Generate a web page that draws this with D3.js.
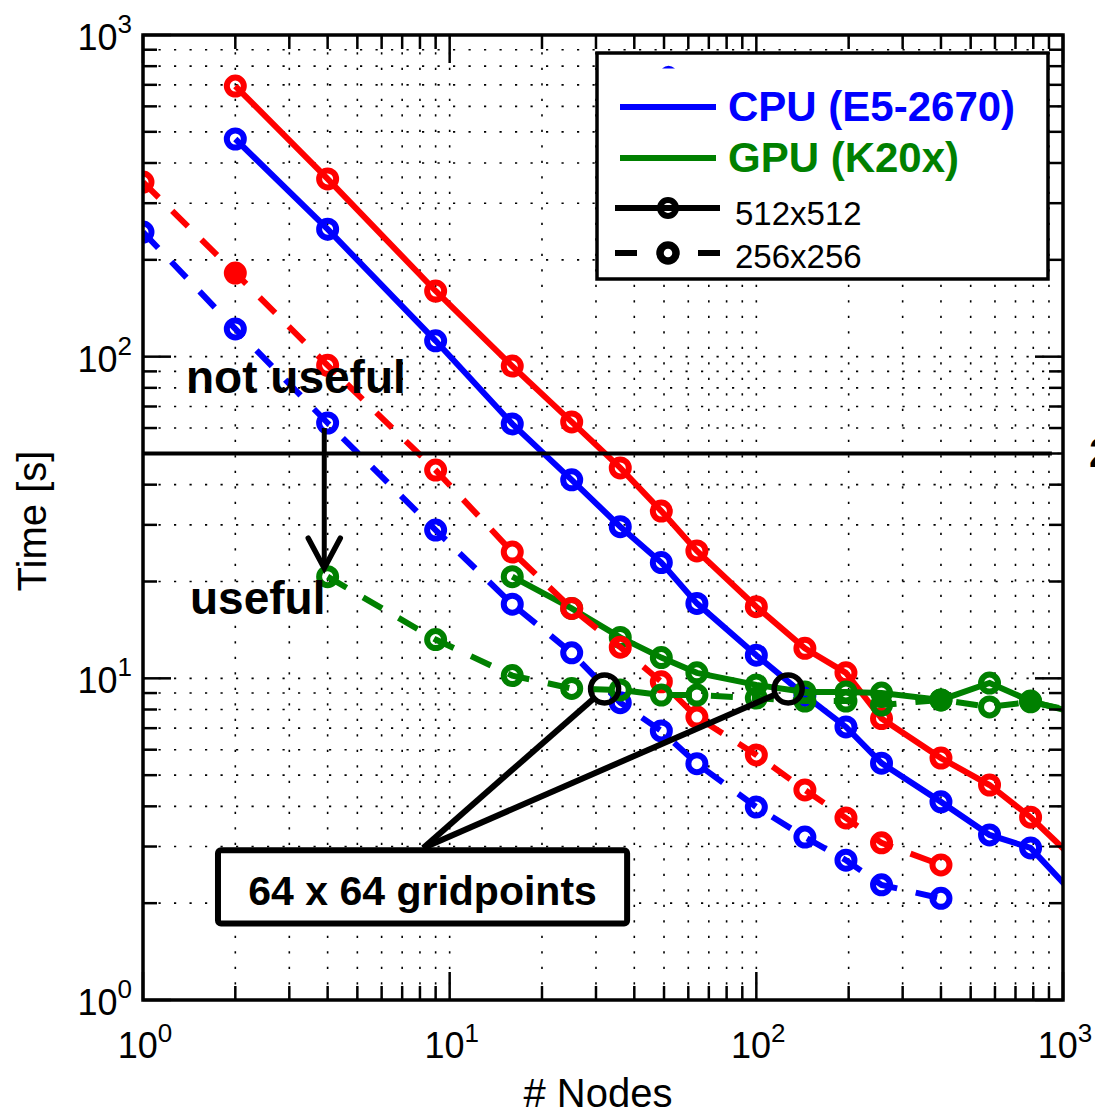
<!DOCTYPE html>
<html>
<head>
<meta charset="utf-8">
<script src="https://cdn.jsdelivr.net/npm/d3@7"></script>
<style>
body{margin:0;background:#fff;}
svg{display:block;font-family:"Liberation Sans",Arial,Helvetica,sans-serif;}
</style>
</head>
<body>
<svg id="chart"></svg>
<script>
// node counts for each run size
var nodes512 = [2,4,9,16,25,36,49,64,100,144,196,256,400,576,784,1024];
var nodes256 = [1,2,4,9,16,25,36,49,64,100,144,196,256,400];
var nodesGpu512 = [16,25,36,49,64,100,144,196,256,400,576,784,1024];
var nodesGpu256 = [4,9,16,25,36,49,64,100,144,196,256,400,576,784,1024];

// times in seconds
var red512  = [694,357,160,93.5,62.7,45.1,33.1,24.9,16.7,12.4,10.4,7.5,5.65,4.66,3.7,2.9];
var cpu512  = [475,249,112,61.8,41.4,29.6,22.9,17.1,11.8,8.85,7.06,5.45,4.13,3.26,2.97,2.26];
var red256  = [349,182,94,44.4,24.7,16.5,12.5,9.75,7.58,5.78,4.5,3.68,3.08,2.63];
var cpu256  = [244,122,62.2,28.9,17.0,12.0,8.4,6.86,5.43,3.98,3.21,2.72,2.28,2.07];
var gpu512  = [20.7,16.5,13.4,11.6,10.4,9.54,9.07,9.07,9.0,8.57,9.67,8.5,7.95];
var gpu256  = [20.7,13.2,10.2,9.3,9.2,8.87,8.87,8.68,8.5,8.5,8.26,8.57,8.15,8.45,8.0];

// axis ticks
var decades = [1,10,100,1000];
var tickExps = ["0","1","2","3"];

// annotations
var thresholdTime = 50;
var thresholdNodes = [1,920];
var arrowNodes = 3.9;
var arrowTimes = [60,22];
var gridpointMarks = [[32,9.27],[127,9.27]];
var gridpointAnchor = [8.2,2.97];
var gridpointBox = {x0:1.756,x1:37.9,y0:2.92,y1:1.73};

var screen = {width:1095,height:1114};
var plot = {left:143,right:1063,top:35,bottom:1000};

var svg = d3.select("#chart")
    .attr("width",screen.width)
    .attr("height",screen.height);

var xScale = d3.scaleLog().domain([1,1000]).range([plot.left,plot.right]);
var yScale = d3.scaleLog().domain([1,1000]).range([plot.bottom,plot.top]);

// all tick values, 1..9 per decade
var tickValues = [];
decades.slice(0,3).forEach(function(d){
    for(var k=1;k<10;k++){ tickValues.push(d*k); }
});
tickValues.push(1000);

var drawGrid = function()
{
    var grid = svg.append("g").attr("class","grid")
        .attr("stroke","#000")
        .attr("stroke-width",1.6)
        .attr("stroke-dasharray","2.2,13.3");
    tickValues.filter(function(v){return v>1 && v<1000;}).forEach(function(v){
        grid.append("line")
            .attr("x1",xScale(v)).attr("x2",xScale(v))
            .attr("y1",plot.bottom).attr("y2",plot.top);
        grid.append("line")
            .attr("y1",yScale(v)).attr("y2",yScale(v))
            .attr("x1",plot.left).attr("x2",plot.right);
    });
}

var drawAxes = function()
{
    var axes = svg.append("g").attr("class","axes")
        .attr("stroke","#000").attr("stroke-width",2.5);
    tickValues.forEach(function(v){
        var len = decades.indexOf(v)>=0 ? 28 : 14;
        var xv = xScale(v), yv = yScale(v);
        axes.append("line").attr("x1",xv).attr("x2",xv)
            .attr("y1",plot.bottom).attr("y2",plot.bottom-len);
        axes.append("line").attr("x1",xv).attr("x2",xv)
            .attr("y1",plot.top).attr("y2",plot.top+len);
        axes.append("line").attr("y1",yv).attr("y2",yv)
            .attr("x1",plot.left).attr("x2",plot.left+len);
        axes.append("line").attr("y1",yv).attr("y2",yv)
            .attr("x1",plot.right).attr("x2",plot.right-len);
    });
    svg.append("rect")
        .attr("x",plot.left).attr("y",plot.top)
        .attr("width",plot.right-plot.left)
        .attr("height",plot.bottom-plot.top)
        .attr("fill","none").attr("stroke","#000").attr("stroke-width",3.5);

    var labels = svg.append("g").attr("font-size",36).attr("fill","#000");
    decades.forEach(function(v,i){
        var t = labels.append("text")
            .attr("x",xScale(v)+2).attr("y",plot.bottom+58)
            .attr("text-anchor","middle");
        t.append("tspan").text("10");
        t.append("tspan").attr("dy",-16).attr("font-size",26).text(tickExps[i]);

        var s = labels.append("text")
            .attr("x",plot.left-11).attr("y",yScale(v)+15)
            .attr("text-anchor","end");
        s.append("tspan").text("10");
        s.append("tspan").attr("dy",-17).attr("font-size",26).text(tickExps[i]);
    });

    svg.append("text")
        .text("# Nodes")
        .attr("font-size",40)
        .attr("text-anchor","middle")
        .attr("x",598)
        .attr("y",1107);
    svg.append("text")
        .text("Time [s]")
        .attr("font-size",40)
        .attr("text-anchor","middle")
        .attr("transform","translate(46,521) rotate(-90)");
}

var drawSeries = function(plotArea,nodes,times,color,dashed,filledNodes)
{
    var pts = nodes.map(function(n,i){ return [n,times[i]]; });
    var lineGenerator = d3.line()
        .x(function(d){ return xScale(d[0]); })
        .y(function(d){ return yScale(d[1]); });
    plotArea.append("path")
        .datum(pts)
        .attr("fill","none")
        .attr("stroke",color)
        .attr("stroke-width",6)
        .attr("stroke-dasharray",dashed ? "22,19" : null)
        .attr("d",lineGenerator);
    plotArea.selectAll(null)
        .data(pts.filter(function(d){ return d[0]<=1000; }))
        .enter()
        .append("circle")
        .attr("cx",function(d){ return xScale(d[0]); })
        .attr("cy",function(d){ return yScale(d[1]); })
        .attr("r",8.5)
        .attr("fill",function(d){ return filledNodes.indexOf(d[0])>=0 ? color : "none"; })
        .attr("stroke",color)
        .attr("stroke-width",6);
}

var drawAnnotations = function(plotArea)
{
    plotArea.append("line")
        .attr("x1",xScale(thresholdNodes[0])).attr("x2",xScale(thresholdNodes[1]))
        .attr("y1",yScale(thresholdTime)).attr("y2",yScale(thresholdTime))
        .attr("stroke","#000").attr("stroke-width",4);

    var ax = xScale(arrowNodes);
    var tip = yScale(arrowTimes[1]);
    plotArea.append("line")
        .attr("x1",ax).attr("x2",ax)
        .attr("y1",yScale(arrowTimes[0])).attr("y2",tip-3)
        .attr("stroke","#000").attr("stroke-width",5);
    plotArea.append("path")
        .attr("d","M"+(ax-16)+","+(tip-30)+"L"+ax+","+tip+"L"+(ax+16)+","+(tip-30))
        .attr("fill","none").attr("stroke","#000").attr("stroke-width",5.5)
        .attr("stroke-linecap","round").attr("stroke-linejoin","miter");

    svg.append("text").text("not useful")
        .attr("font-weight","bold").attr("font-size",46)
        .attr("x",186).attr("y",393);
    svg.append("text").text("useful")
        .attr("font-weight","bold").attr("font-size",46)
        .attr("x",190).attr("y",614);

    var axp = xScale(gridpointAnchor[0]), ayp = yScale(gridpointAnchor[1]);
    gridpointMarks.forEach(function(m){
        var cx = xScale(m[0]), cy = yScale(m[1]);
        var dx = axp-cx, dy = ayp-cy, dist = Math.sqrt(dx*dx+dy*dy);
        svg.append("line")
            .attr("x1",cx+dx/dist*14).attr("y1",cy+dy/dist*14)
            .attr("x2",axp).attr("y2",ayp)
            .attr("stroke","#000").attr("stroke-width",6);
        svg.append("circle")
            .attr("cx",cx).attr("cy",cy).attr("r",14)
            .attr("fill","none").attr("stroke","#000").attr("stroke-width",5.5);
    });
    var bx0 = xScale(gridpointBox.x0), bx1 = xScale(gridpointBox.x1);
    var by0 = yScale(gridpointBox.y0), by1 = yScale(gridpointBox.y1);
    svg.append("rect")
        .attr("x",bx0).attr("y",by0)
        .attr("width",bx1-bx0).attr("height",by1-by0)
        .attr("rx",3)
        .attr("fill","#fff").attr("stroke","#000").attr("stroke-width",6);
    svg.append("text").text("64 x 64 gridpoints")
        .attr("font-weight","bold").attr("font-size",41)
        .attr("text-anchor","middle")
        .attr("x",(bx0+bx1)/2).attr("y",by1-18);

    svg.append("text").text("2")
        .attr("font-weight","bold").attr("font-size",42)
        .attr("x",1089).attr("y",467);
}

var drawLegend = function()
{
    var lg = svg.append("g").attr("class","legend");
    lg.append("rect")
        .attr("x",597).attr("y",53).attr("width",451).attr("height",226)
        .attr("fill","#fff").attr("stroke","#000").attr("stroke-width",3.5);
    lg.append("path")
        .attr("d","M662,68.5 Q668.5,63 675,68.5 Z")
        .attr("fill","#0000ff");

    var entries = [
        {label:"CPU (E5-2670)",color:"#0000ff",y:107},
        {label:"GPU (K20x)",color:"#008000",y:158}
    ];
    entries.forEach(function(e){
        lg.append("line")
            .attr("x1",620).attr("x2",716).attr("y1",e.y).attr("y2",e.y)
            .attr("stroke",e.color).attr("stroke-width",6);
        lg.append("text").text(e.label)
            .attr("x",728).attr("y",e.y+14)
            .attr("fill",e.color).attr("font-weight","bold").attr("font-size",42);
    });

    lg.append("line")
        .attr("x1",615).attr("x2",720).attr("y1",208).attr("y2",208)
        .attr("stroke","#000").attr("stroke-width",6);
    lg.append("circle").attr("cx",668).attr("cy",208).attr("r",8)
        .attr("fill","none").attr("stroke","#000").attr("stroke-width",6);
    lg.append("text").text("512x512")
        .attr("x",735).attr("y",225).attr("font-size",33);

    lg.append("line")
        .attr("x1",615).attr("x2",720).attr("y1",253).attr("y2",253)
        .attr("stroke","#000").attr("stroke-width",6)
        .attr("stroke-dasharray","22,61,22");
    lg.append("circle").attr("cx",668).attr("cy",253).attr("r",8)
        .attr("fill","none").attr("stroke","#000").attr("stroke-width",7.5);
    lg.append("text").text("256x256")
        .attr("x",735).attr("y",268).attr("font-size",33);
}

var initGraph = function()
{
    svg.append("defs").append("clipPath").attr("id","plotclip")
        .append("rect")
        .attr("x",plot.left).attr("y",plot.top)
        .attr("width",plot.right-plot.left)
        .attr("height",plot.bottom-plot.top);

    drawGrid();
    var plotArea = svg.append("g").attr("clip-path","url(#plotclip)");
    drawSeries(plotArea,nodes256,cpu256,"#0000ff",true,[]);
    drawSeries(plotArea,nodes512,cpu512,"#0000ff",false,[]);
    drawSeries(plotArea,nodes512,red512,"#ff0000",false,[]);
    drawSeries(plotArea,nodesGpu512,gpu512,"#008000",false,[400,784]);
    drawSeries(plotArea,nodes256,red256,"#ff0000",true,[2]);
    drawSeries(plotArea,nodesGpu256,gpu256,"#008000",true,[]);
    drawAnnotations(plotArea);
    drawAxes();
    drawLegend();
}

initGraph();
</script>
</body>
</html>
